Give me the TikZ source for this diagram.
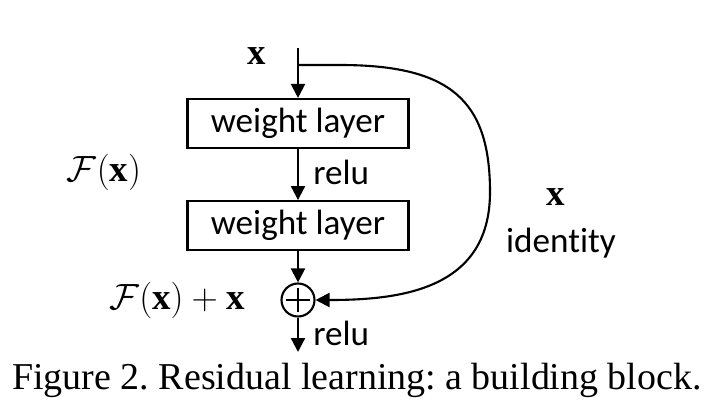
\documentclass[tikz,border=0pt]{standalone}
\usepackage{fontspec}
\setmainfont{Liberation Serif}
\newfontfamily\calfont[Ligatures=NoCommon]{Carlito}
\usepackage{tikz}
\usetikzlibrary{arrows.meta,positioning,calc}
\frenchspacing

\begin{document}
\begin{tikzpicture}[
  x=0.2mm, y=-0.2mm,
  node distance=10.2mm and 3mm,
  layer/.style={draw, line width=1.2pt, minimum width=44.2mm,
    minimum height=9.8mm, inner sep=0pt, font=\fontsize{20}{24}\selectfont\calfont},
  addop/.style={draw, circle, line width=1.2pt, minimum size=6.6mm, inner sep=0pt},
  arr/.style={-{Triangle[length=2.8mm, width=2.8mm]}, line width=1.2pt},
  lbl/.style={font=\fontsize{20}{24}\selectfont\calfont, inner sep=0pt},
  eq/.style={font=\fontsize{21}{25}\selectfont, inner sep=0pt},
]
\useasboundingbox (0,0) rectangle (714,416);

% main branch
\coordinate (in) at (298,48);
\coordinate (fork) at (298,65);
\node[layer] (L1) at (298,123.5) {weight layer};
\node[layer, below=of L1] (L2) {weight layer};
\node[addop] (sum) at (298,300) {};
\draw[line width=1.2pt] ($(sum.north)+(0,6)$) -- ($(sum.south)+(0,-6)$);
\draw[line width=1.2pt] ($(sum.west)+(6,0)$) -- ($(sum.east)+(-6,0)$);
\coordinate (out) at (298,352);

\draw[arr] (in) -- (L1.north);
\draw[arr] (L1) -- (L2);
\draw[arr] (L2) -- (sum);
\draw[arr] (sum) -- (out);

% shortcut
\coordinate (side) at (490,192);
\draw[arr] (fork) -- (340,65) .. controls (450,65) and (490,100) .. (side)
  .. controls (490,290) and (400,300) .. (sum.east);

% labels
\node[eq] (xin) at (257,56) {$\mathbf{x}$};
\node[eq] (Fx) at (104,172) {$\mathcal{F}(\mathbf{x})$};
\node[eq] (Fxx) at (177,300) {$\mathcal{F}(\mathbf{x})+\mathbf{x}$};
\node[eq] (xid) at (556,197) {$\mathbf{x}$};
\node[lbl] (idt) at (561,243) {identity};
\node[lbl, anchor=west] (relu1) at (313,172) {relu};
\node[lbl, anchor=west] (relu2) at (313,333) {relu};

% caption
\node[font=\fontsize{21.6}{26}\selectfont, inner sep=0pt] (cap) at (357,380)
  {Figure 2. Residual learning: a building block.};
\end{tikzpicture}
\end{document}
